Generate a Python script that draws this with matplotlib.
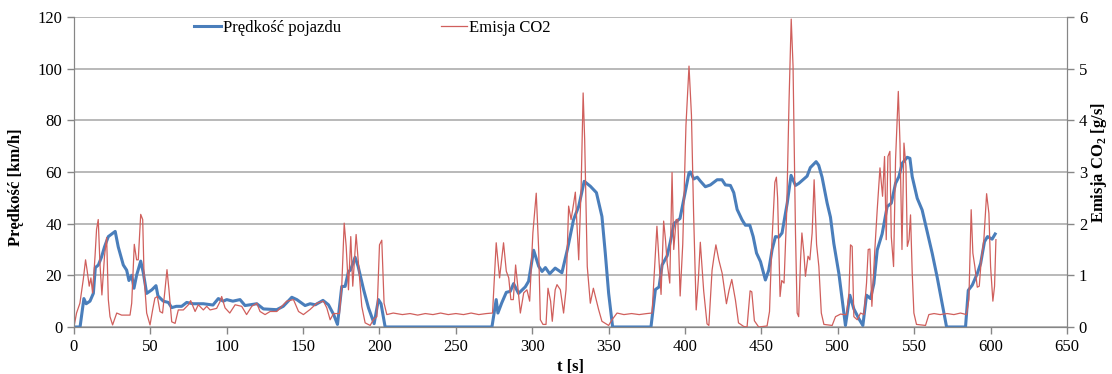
import matplotlib.pyplot as plt

# czas [s] i prędkość pojazdu [km/h]
t_speed = [0, 4, 6.5, 8, 10.5, 12.7, 14, 16, 18, 20, 22.5, 24.7, 27, 29, 32.3, 34.5, 36, 37.8,
           39.3, 41, 43.7, 45.4, 47.6, 51, 53.7, 55, 58.5, 61.8, 64, 67, 70.5, 73.8, 78, 84.7,
           91, 94.5, 97.8, 100, 104, 108.7, 112, 119.7, 124, 132.7, 137, 142.6, 145.9, 151.3,
           154.6, 158, 163, 166.6, 170, 172.5, 175.3, 177.5, 179.7, 181, 184, 186, 189.5, 192.8,
           196.5, 199.3, 201, 203.7, 273.6, 276.4, 277.5, 280, 283, 285.6, 287.8, 291, 295.4,
           297.6, 300.9, 304.2, 306.4, 308.6, 311.4, 315, 319.4, 323, 327, 330.4, 334, 338, 342,
           345.6, 347.8, 350, 352.6, 377.7, 380.6, 383, 385, 388.3, 390.4, 392.7, 396.7, 399.5,
           402.6, 403.5, 405.7, 408, 410, 413.3, 416.6, 421, 424.2, 426.4, 429.7, 431.9, 434.1,
           437.3, 439.5, 442.4, 444.6, 446.8, 449.4, 452.6, 454.8, 457, 459.2, 461.4, 463.5,
           466.9, 469.4, 472.3, 474.5, 479.9, 482, 485.8, 487.5, 489.7, 493, 495.2, 497.4, 500.7,
           503.5, 505, 507.9, 510.5, 513.8, 516.4, 518.8, 521.4, 523.6, 525.8, 529, 532.3, 535,
           537.8, 540, 542.2, 545.4, 547.2, 548.7, 552, 555.2, 558.5, 561.8, 565, 568.3, 571.2,
           583.6, 585.4, 588, 591.3, 593.5, 596, 598, 601, 603]
speed = [0, 0, 11, 9, 10, 13, 23, 24, 27, 31, 35, 36, 37, 31, 24, 22, 18, 20,
         15, 20, 25.5, 21, 13, 14.4, 16, 12, 10, 9.5, 7.5, 8, 8, 9.5, 9, 9,
         8.5, 11, 10, 10.6, 10, 10.6, 8.3, 9, 7, 6.7, 8, 11.5, 10.6, 8.3,
         9, 8.6, 10.3, 8.6, 4.8, 1, 15.7, 15.7, 21.5, 22, 27, 23.5, 14.7, 7.4,
         1.3, 10.6, 9, 0, 0, 10.6, 5.4, 9.3, 13.4, 13.8, 16.8, 13, 15.5,
         17.7, 29.7, 23.5, 21.5, 23, 20.6, 22.8, 21, 30, 41.5, 46.7, 56.4, 54.5, 52,
         42.8, 28.6, 13, 0, 0, 14.5, 15.5, 24, 27.6, 33, 40, 42, 50.5,
         59.7, 60, 57.3, 58, 56.5, 54.3, 55, 57, 57, 55, 54.8, 52, 45.5,
         41.5, 39.4, 39.4, 35, 28.6, 25.3, 18.2, 22, 30, 35, 34.8, 36.4,
         48, 58.7, 54.8, 55.6, 58.4, 61.7, 64, 62.6, 58, 48, 42.5, 32.3, 20.7,
         7.8, 0.6, 12.3, 7, 3.2, 0.6, 12.3, 11, 16.8, 29.8, 36, 46.6, 47.9,
         55.6, 58.2, 63.4, 65.7, 65.3, 58.2, 49.8, 45.3, 36.9, 28.5, 19.4, 9, 0,
         0, 14.2, 16.2, 20.7, 24.6, 33, 35, 34, 36]

# czas [s] i emisja CO2 [g/s]
t_co2 = [0, 1.7, 3.9, 6.1, 7.6, 8.7, 10, 11.1, 12.2, 13.8, 14.8, 15.9, 17, 18.3, 20, 21.4,
         22.5, 23.6, 25.3, 28, 31.2, 36.7, 37.8, 39.5, 41, 42.1, 43.7, 45, 45.9, 47.6, 49.8,
         51.5, 53, 54.6, 56.3, 58, 59.6, 60.9, 62.2, 64, 66.2, 68.3, 71.6, 74.9, 76.4, 79.3,
         81.4, 84.7, 86.9, 89.1, 93.4, 95.6, 96.7, 98.9, 102, 105.5, 109.8, 113, 116.4, 119.7,
         121.8, 125.1, 128.4, 132.8, 136, 139.3, 143.7, 147, 150.2, 154.6, 159, 163.3, 165.5,
         167.7, 169.9, 173.8, 175.3, 176.9, 178.2, 179.7, 181.2, 182.5, 184.7, 186.2, 188.4,
         190.6, 193.9, 196, 198.3, 200, 201.5, 203, 204.8, 209, 215, 220, 225, 230, 235, 240,
         245, 250, 255, 260, 265, 270, 274, 276.4, 278.6, 281.2, 283, 284.6, 286, 287.6, 289.1,
         290.5, 292.2, 294.4, 296.5, 298.3, 300.4, 302.6, 304.2, 305.3, 307, 309, 310.3, 312,
         313.1, 315, 316.2, 318.4, 320.5, 322.1, 323.8, 325.4, 326.6, 328.2, 330.4, 332, 333.3,
         334.3, 336, 338, 340, 343.4, 345.6, 350, 352.2, 355.5, 360, 365, 370, 375, 378.4,
         381.6, 383.4, 384.3, 386, 387.2, 388.3, 390, 391.5, 392.6, 394.2, 395.3, 396.8, 398.5,
         400.6, 402.6, 404.2, 405.6, 407.3, 408.7, 410, 412.2, 414.4, 415.6, 417.7, 418.8,
         420.2, 422.1, 424.3, 427.1, 428.8, 430.6, 433, 435, 438.4, 440.6, 442.6, 443.7, 445.4,
         448.2, 453.7, 455.3, 456.8, 458.8, 459.8, 460.6, 462.2, 463.3, 464.8, 466.5, 468.1,
         469.5, 470.7, 472.3, 473.4, 474.4, 475.6, 476.5, 477.8, 478.8, 480.5, 481.7, 483.2,
         484.5, 486.1, 487.6, 489.2, 490.9, 496.3, 498.5, 501.8, 504, 505.7, 507.3, 508.3,
         509.4, 510.5, 512.7, 514.9, 517.1, 518.8, 519.9, 521, 522.3, 524.1, 525.8, 527.6,
         529.3, 530.6, 531.7, 532.8, 534.1, 535, 536.5, 537.8, 539.6, 540.7, 542, 543.3, 544.6,
         545.5, 546.6, 547.6, 548.7, 549.8, 551.5, 557.4, 559.6, 563, 567, 571.6, 576, 580.3,
         584.2, 585.8, 587.3, 588.4, 589.7, 591.3, 592.6, 593.9, 595.6, 597.4, 598.9, 600,
         601.5, 602.6, 603.5]
co2 = [0, 0.27, 0.46, 0.92, 1.3, 1.08, 0.79, 0.95, 0.66, 1.37, 1.89, 2.08, 1.24, 0.62, 1.37, 1.73,
       0.53, 0.2, 0.04, 0.27, 0.23, 0.23, 0.46, 1.6, 1.3, 1.3, 2.18, 2.08, 0.98, 0.27, 0.04,
       0.33, 0.56, 0.59, 0.3, 0.27, 0.72, 1.11, 0.72, 0.1, 0.07, 0.33, 0.33, 0.43, 0.51, 0.3,
       0.43, 0.33, 0.4, 0.33, 0.36, 0.49, 0.59, 0.37, 0.27, 0.43, 0.4, 0.24, 0.4, 0.46,
       0.3, 0.24, 0.3, 0.3, 0.4, 0.5, 0.53, 0.3, 0.24, 0.34, 0.46, 0.5, 0.37,
       0.14, 0.26, 0.26, 0.79, 2.01, 1.56, 0.72, 1.75, 0.79, 1.79, 1.24, 0.4,
       0.08, 0.03, 0.14, 0.2, 1.59, 1.68, 0.46, 0.24, 0.27, 0.24, 0.26, 0.23, 0.26, 0.24, 0.27,
       0.24, 0.26, 0.24, 0.27, 0.24, 0.26, 0.27, 1.63, 0.95, 1.63, 1.08, 0.95, 0.53, 0.53, 1.2,
       0.79, 0.27, 0.66, 0.72, 0.5, 1.82, 2.59, 1.5, 0.14, 0.05, 0.05, 0.75, 0.5,
       0.11, 0.72, 0.82, 0.72, 0.27, 0.72, 2.34, 2.08, 2.3, 2.61, 1.3, 2.72, 4.53,
       3.63, 1.17, 0.46, 0.75, 0.34, 0.11, 0.03, 0.14, 0.27, 0.24, 0.26, 0.24, 0.26, 0.27,
       1.95, 1.05, 0.63, 2.05, 1.69, 1.24, 0.85, 2.99, 1.5, 2.08, 2.08, 0.6, 1.6,
       3.9, 5.05, 4.1, 2.2, 0.33, 0.91, 1.64, 0.7, 0.06, 0.03, 1.1, 1.33,
       1.59, 1.3, 1.04, 0.45, 0.71, 0.92, 0.52, 0.08, 0.01, 0, 0.7, 0.68, 0.12,
       0, 0.02, 0.3, 1.6, 2.8, 2.9, 2.5, 0.59, 0.9, 0.85, 2.2, 4.4,
       5.96, 5.05, 1.82, 0.27, 0.2, 1.3, 1.82, 1.43, 0.98, 1.37, 1.3, 1.82,
       2.85, 1.6, 1.17, 0.27, 0.05, 0.03, 0.2, 0.25, 0.24, 0.24, 0.66, 1.59,
       1.56, 0.2, 0.14, 0.27, 0.24, 0.85, 1.5, 1.51, 0.4, 1.43, 2.27, 3.08,
       2.53, 3.3, 1.69, 3.3, 3.4, 1.75, 1.17, 3.24, 4.56, 3.56, 1.5, 3.56, 3.11,
       1.56, 1.69, 2.17, 1.05, 0.27, 0.05, 0.03, 0.24, 0.26, 0.24, 0.26, 0.24, 0.27,
       0.24, 0.53, 2.27, 1.43, 1.17, 0.77, 0.79, 1.3, 1.69, 2.58, 2.2, 1.17,
       0.5, 0.79, 1.69]

plt.rcParams['font.family'] = 'Liberation Serif'
plt.rcParams['mathtext.fontset'] = 'custom'
plt.rcParams['mathtext.rm'] = 'Liberation Serif'
plt.rcParams['mathtext.bf'] = 'Liberation Serif:bold'

grey = '#868686'
fig = plt.figure(figsize=(11.12, 3.74), dpi=100)
ax = fig.add_axes([0.0665, 0.1257, 0.893, 0.8288])
ax2 = ax.twinx()

l1, = ax.plot(t_speed, speed, color='#4a7ebb', lw=2.2, label='Prędkość pojazdu')
l2, = ax2.plot(t_co2, co2, color='#d05f5c', lw=0.9, label='Emisja CO2')

ax.set_xlim(0, 650)
ax.set_ylim(0, 120)
ax2.set_ylim(0, 6)
ax.set_xticks(range(0, 651, 50))
ax.set_yticks(range(0, 121, 20))
ax2.set_yticks(range(0, 7))
ax.yaxis.grid(True, color='#a6a6a6', lw=1.1)
ax.set_axisbelow(True)

for a in (ax, ax2):
    a.spines['top'].set_visible(False)
    for s in ('left', 'right', 'bottom'):
        a.spines[s].set_color(grey)
    a.tick_params(colors=grey, labelcolor='black', labelsize=12, length=5, width=1)

ax.set_xlabel('t [s]', fontsize=12, fontweight='bold', labelpad=3)
ax.set_ylabel('Prędkość [km/h]', fontsize=12, fontweight='bold')
ax2.set_ylabel(r'Emisja CO$_\mathbf{2}$ [g/s]', fontsize=12, fontweight='bold')
ax.yaxis.set_label_coords(-0.050, 0.45)
ax2.yaxis.set_label_coords(1.022, 0.53)

fig.legend([l1, l2], ['Prędkość pojazdu', 'Emisja CO2'], loc='center',
           bbox_to_anchor=(0.335, 0.925), ncol=2, frameon=False, fontsize=12,
           handlelength=1.6, handletextpad=0.1, columnspacing=6.0)

fig.savefig('out.png', dpi=100)
